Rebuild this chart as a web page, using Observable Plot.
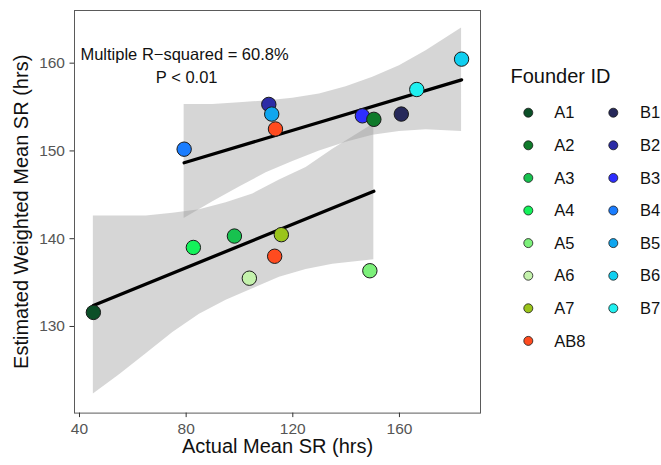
<!DOCTYPE html>
<html>
<head>
<meta charset="utf-8">
<script src="https://cdn.jsdelivr.net/npm/d3@7"></script>
<script src="https://cdn.jsdelivr.net/npm/@observablehq/plot@0.6"></script>
<style>
  html, body { margin: 0; padding: 0; background: white; }
  #wrap { position: relative; width: 661px; height: 465px; font-family: "Liberation Sans", Arial, Helvetica, sans-serif; }
  #legend { position: absolute; left: 0; top: 0; }
</style>
</head>
<body>
<div id="wrap"></div>
<script>
// ---- data ----
const founderIds   = ["B1","B2","B3","B4","B5","B6","B7","A1","A2","A3","A4","A5","A6","A7","AB8","AB8"];
const actualSR     = [160.7,111.0,146.1,79.25,112.1,183.3,166.5,45.2,150.4,98.1,82.7,148.9,103.7,115.7,113.5,113.2];
const weightedSR   = [154.2,155.3,154.0,150.2,154.2,160.46,157.0,131.6,153.6,140.3,139.0,136.35,135.5,140.46,152.5,138.0];

const legendIds    = ["A1","A2","A3","A4","A5","A6","A7","AB8","B1","B2","B3","B4","B5","B6","B7"];
const legendColors = ["#0b4f27","#0f7a2a","#17c24f","#14f25a","#7cf07a","#c4f2ac","#9ac41b","#ff4b1f",
                      "#26285a","#2c2ca6","#2e2eff","#1a7dff","#0fa6ef","#10cff0","#1ff0f0"];

// fitted lines (two groups)
const fitAx = [45.2, 150.4];
const fitAy = [132.4, 145.4];
const fitBx = [79.25, 183.3];
const fitBy = [148.65, 158.1];

// confidence bands
const bandAx  = [45.2, 55, 65, 75, 85, 95, 105, 115, 125, 135, 150.4];
const bandAlo = [122.3, 124.5, 126.9, 129.3, 131.4, 133.0, 134.3, 135.6, 136.5, 137.1, 137.6];
const bandAhi = [142.6, 142.6, 142.6, 142.9, 143.3, 144.1, 145.1, 146.7, 148.1, 150.2, 153.1];
const bandBx  = [79.25, 90, 100, 110, 120, 130, 140, 150, 160, 170, 183.3];
const bandBlo = [142.3, 144.2, 145.9, 147.5, 148.8, 150.0, 151.0, 151.8, 152.2, 152.4, 152.2];
const bandBhi = [155.3, 155.3, 155.5, 155.7, 156.0, 156.5, 157.3, 158.4, 159.7, 161.4, 164.0];

const xTicks = [40, 80, 120, 160];
const yTicks = [130, 140, 150, 160];
const annotLines = ["Multiple R\u2212squared = 60.8%", "P < 0.01"];
const annotX = [79.4, 80.2];
const annotY = [161.0, 158.35];
const xTitle = "Actual Mean SR (hrs)";
const yTitle = "Estimated Weighted Mean SR (hrs)";
const legendTitle = "Founder ID";

// ---- build tables ----
const points = founderIds.map((id, i) => ({id, x: actualSR[i], y: weightedSR[i]}));
const fitA = fitAx.map((x, i) => ({x, y: fitAy[i]}));
const fitB = fitBx.map((x, i) => ({x, y: fitBy[i]}));
const bandA = bandAx.map((x, i) => ({x, lo: bandAlo[i], hi: bandAhi[i]}));
const bandB = bandBx.map((x, i) => ({x, lo: bandBlo[i], hi: bandBhi[i]}));
const annot = annotLines.map((t, i) => ({t, x: annotX[i], y: annotY[i]}));

const font = "'Liberation Sans', Arial, Helvetica, sans-serif";

const chart = Plot.plot({
  width: 661,
  height: 465,
  marginLeft: 74,
  marginRight: 181,
  marginTop: 10,
  marginBottom: 52.4,
  style: {fontFamily: font, background: "white", overflow: "visible"},
  x: {domain: [38.125, 190.4]},
  y: {domain: [120.13, 166.0]},
  color: {domain: legendIds, range: legendColors},
  marks: [
    Plot.areaY(bandA, {x: "x", y1: "lo", y2: "hi", fill: "#999999", fillOpacity: 0.4}),
    Plot.areaY(bandB, {x: "x", y1: "lo", y2: "hi", fill: "#999999", fillOpacity: 0.4}),
    Plot.line(fitA, {x: "x", y: "y", stroke: "black", strokeWidth: 3.3}),
    Plot.line(fitB, {x: "x", y: "y", stroke: "black", strokeWidth: 3.3}),
    Plot.dot(points, {x: "x", y: "y", fill: "id", r: 7.2, stroke: "#1a1a1a", strokeWidth: 1}),
    Plot.text(annot, {x: "x", y: "y", text: "t", fontSize: 16.5, fill: "#111"}),
    Plot.frame({stroke: "#5a5a5a", strokeWidth: 1}),
    Plot.axisX({ticks: xTicks, tickSize: 4.5, tickPadding: 5, fontSize: 15.5, stroke: "#333", fill: "#555", label: null}),
    Plot.axisY({ticks: yTicks, tickSize: 4.5, tickPadding: 5, fontSize: 15.5, stroke: "#333", fill: "#555", label: null}),
    Plot.text([xTitle], {text: d => d, frameAnchor: "bottom", textAnchor: "middle", dy: 40, fontSize: 20, fill: "#111"}),
    Plot.text([yTitle], {text: d => d, frameAnchor: "left", textAnchor: "middle", rotate: -90, dx: -53.4, fontSize: 20, fill: "#111"})
  ]
});

const wrap = document.getElementById("wrap");
wrap.appendChild(chart);

// ---- legend (built from the same ids/colors) ----
const color = chart.scale("color");
const leg = d3.create("svg")
  .attr("id", "legend")
  .attr("width", 661).attr("height", 465)
  .style("font-family", font)
  .style("pointer-events", "none");
leg.append("text")
  .attr("x", 510.5).attr("y", 83)
  .attr("font-size", 20).attr("fill", "#111")
  .text(legendTitle);
const colA = legendIds.filter(d => d.startsWith("A"));
const colB = legendIds.filter(d => d.startsWith("B"));
[[colA, 528.3, 554.3], [colB, 613.3, 640]].forEach(([ids, cx, tx]) => {
  ids.forEach((id, i) => {
    const cy = 112.7 + i * 32.6;
    leg.append("circle").attr("cx", cx).attr("cy", cy).attr("r", 4.5)
      .attr("fill", color.apply(id)).attr("stroke", "#1a1a1a").attr("stroke-width", 0.8);
    leg.append("text").attr("x", tx).attr("y", cy).attr("dy", "0.35em")
      .attr("font-size", 16.5).attr("fill", "#111").text(id);
  });
});
wrap.appendChild(leg.node());
</script>
</body>
</html>
